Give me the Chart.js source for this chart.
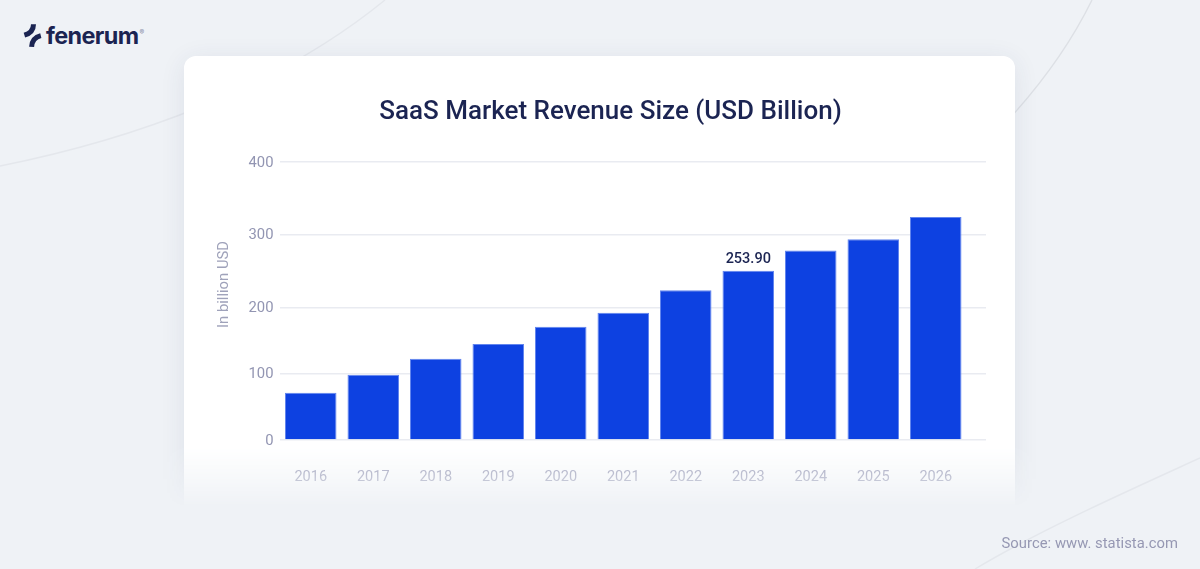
<!DOCTYPE html>
<html>
<head>
<meta charset="utf-8">
<script src="https://cdn.jsdelivr.net/npm/chart.js@4"></script>
<style>
html,body{margin:0;padding:0;width:1200px;height:569px;overflow:hidden;background:#eff2f6;font-family:Roboto,sans-serif}
.abs{position:absolute}
#cardwrap{left:120px;top:0;width:960px;height:569px;
  -webkit-mask-image:linear-gradient(to bottom,#000 0,#000 445px,rgba(0,0,0,.55) 476px,rgba(0,0,0,0) 508px);
  mask-image:linear-gradient(to bottom,#000 0,#000 445px,rgba(0,0,0,.55) 476px,rgba(0,0,0,0) 508px)}
#card{left:64px;top:56px;width:831px;height:500px;background:#fff;border-radius:12px;box-shadow:0 4px 26px rgba(40,50,100,.09)}
#chart{left:0;top:0;
  -webkit-mask-image:linear-gradient(to bottom,#000 0,#000 445px,rgba(0,0,0,.55) 476px,rgba(0,0,0,0) 512px);
  mask-image:linear-gradient(to bottom,#000 0,#000 445px,rgba(0,0,0,.55) 476px,rgba(0,0,0,0) 512px)}
#brand{left:46px;top:20px;font:700 23.4px/32px Inter,sans-serif;color:#1b2452;letter-spacing:-.6px}
#brand sup{font-size:7px;font-weight:500;color:#8b8fa8;letter-spacing:0;vertical-align:9px;line-height:0;margin-left:1px}
#source{right:22px;top:533px;font:400 14.8px/20px Roboto,sans-serif;color:#9698b3;letter-spacing:.03px}
</style>
</head>
<body>
<svg class="abs" style="left:0;top:0" width="1200" height="569" fill="none" stroke="#e4e7ec" stroke-width="1.4">
  <path d="M0 166 C 130 140 275 90 385 0"/>
  <path stroke="#dde0e5" d="M1092 0 C 1070 45 1040 85 1010 118"/>
  <path d="M1200 458 C 1130 490 1040 530 975 569"/>
</svg>
<svg class="abs" style="left:0;top:0" width="60" height="60" fill="none" stroke="#1b2452" stroke-width="5">
  <path d="M33.5 24.2 C 33.5 30.5 30 33.5 24.4 35.2"/>
  <path d="M40.8 35.6 C 35 37 32 40.5 31.6 46.8"/>
</svg>
<div id="brand" class="abs">fenerum<sup>®</sup></div>
<div id="cardwrap" class="abs"><div id="card" class="abs"></div></div>
<canvas id="chart" class="abs" width="1200" height="569"></canvas>
<div id="source" class="abs">Source: www. statista.com</div>
<script>
const categories = ["2016","2017","2018","2019","2020","2021","2022","2023","2024","2025","2026"];
const revenue = [71,98,122.2,144.8,171,192.1,225.2,253.9,279.6,293.8,324.2];
const valueLabels = [null,null,null,null,null,null,null,"253.90",null,null,null];
const yTicks = [0,100,200,300,400];

// The source's value axis is not evenly spaced: these knots hold its spacing.
const axisKnots = [0,100,200,253.9,300,400];
const axisShare = [0,0.2392,0.4766,0.6091,0.7392,1];

class KnottedScale extends Chart.LinearScale {
  getPixelForValue(v){
    let i = 0;
    while (i < axisKnots.length-2 && v > axisKnots[i+1]) i++;
    const t = (v-axisKnots[i])/(axisKnots[i+1]-axisKnots[i]);
    return this.getPixelForDecimal(axisShare[i]+t*(axisShare[i+1]-axisShare[i]));
  }
  getValueForPixel(p){
    const d = this.getDecimalForPixel(p);
    let i = 0;
    while (i < axisShare.length-2 && d > axisShare[i+1]) i++;
    const t = (d-axisShare[i])/(axisShare[i+1]-axisShare[i]);
    return axisKnots[i]+t*(axisKnots[i+1]-axisKnots[i]);
  }
  drawTitle(){
    const a=this.top,b=this.bottom;
    this.top-=16.5; this.bottom-=16.5;
    super.drawTitle();
    this.top=a; this.bottom=b;
  }
}
KnottedScale.id='knotted';
KnottedScale.defaults=Chart.LinearScale.defaults;

// Category bands stop short of the plot's right edge, as in the source.
class TrailingCategoryScale extends Chart.CategoryScale {
  configure(){ super.configure(); this._valueRange=(this.max-this.min+1)*706.5/687.5; }
}
TrailingCategoryScale.id='trailingCategory';
TrailingCategoryScale.defaults=Chart.CategoryScale.defaults;
Chart.register(KnottedScale,TrailingCategoryScale);

const valueLabelPlugin={id:'valueLabels',afterDatasetsDraw(chart){
  const c=chart.ctx, bars=chart.getDatasetMeta(0).data;
  c.save();c.font='500 14.5px Roboto';c.fillStyle='#1b2452';c.textAlign='center';c.textBaseline='alphabetic';
  valueLabels.forEach((t,i)=>{ if(t) c.fillText(t,bars[i].x,bars[i].y-7.5); });
  c.restore();
}};
const titleShift={id:'titleShift',afterLayout(chart){
  chart.titleBlock.left+=11.5; chart.titleBlock.right+=11.5;
}};

new Chart(document.getElementById('chart'),{
  type:'bar',
  data:{labels:categories,datasets:[{data:revenue,backgroundColor:'#0d41e1',borderColor:'#6285ee',borderWidth:1,
    barPercentage:0.824,categoryPercentage:1}]},
  plugins:[valueLabelPlugin,titleShift],
  options:{
    responsive:false,animation:false,
    layout:{padding:{left:212,right:214,top:0,bottom:69}},
    plugins:{
      legend:{display:false},tooltip:{enabled:false},
      title:{display:true,text:'SaaS Market Revenue Size (USD Billion)',color:'#1b2452',
        font:{family:'Roboto',size:26,weight:'500',lineHeight:1.2},
        padding:{top:96.4,bottom:34.4}}
    },
    scales:{
      x:{type:'trailingCategory',offset:true,
        grid:{display:false},border:{display:false},
        ticks:{color:'#9295b2',font:{family:'Roboto',size:14.5},padding:21,maxRotation:0},
        afterFit(s){s.height=60;}},
      y:{type:'knotted',min:0,max:400,
        afterBuildTicks(s){s.ticks=yTicks.map(v=>({value:v}));},
        grid:{color:'#e9ebf1',lineWidth:1.5,drawTicks:false},border:{display:false},
        ticks:{color:'#9295b2',font:{family:'Roboto',size:14.8},padding:6,labelOffset:1},
        title:{display:true,text:'In billion USD',color:'#9fa2ba',font:{family:'Roboto',size:14.8},padding:{top:3,bottom:0}},
        afterFit(s){s.width=67.5;}}
    }
  }
});
</script>
</body>
</html>
